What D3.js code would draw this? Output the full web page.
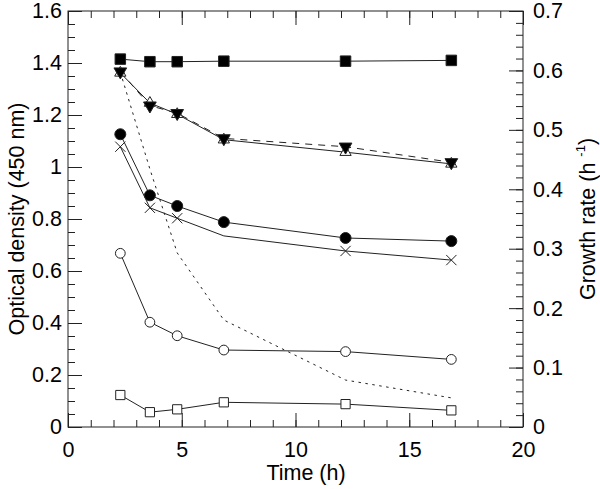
<!DOCTYPE html>
<html><head><meta charset="utf-8">
<script src="https://cdn.jsdelivr.net/npm/d3@7/dist/d3.min.js"></script>
<style>html,body{margin:0;padding:0;background:#fff}svg{display:block}</style>
</head><body>
<svg id="c" width="600" height="489"></svg>
<script>
// ---- data ----
const times = [2.3, 3.6, 4.8, 6.85, 12.2, 16.85];
const filledSquare = [1.415, 1.405, 1.405, 1.407, 1.407, 1.41];
const filledDownTri = [1.367, 1.236, 1.207, 1.11, 1.078, 1.018];
const openUpTri = [1.362, 1.246, 1.203, 1.105, 1.057, 1.012];
const filledCircle = [1.126, 0.891, 0.85, 0.788, 0.727, 0.715];
const crossSeries = [1.078, 0.843, 0.803, 0.735, 0.677, 0.642];
const openCircle = [0.668, 0.403, 0.351, 0.296, 0.29, 0.26];
const openSquare = [0.123, 0.057, 0.068, 0.095, 0.088, 0.064];
const growthRate = [0.597, 0.434, 0.293, 0.18, 0.079, 0.049];
const xTicks = [0, 5, 10, 15, 20];
const yLeftTicks = [0, 0.2, 0.4, 0.6, 0.8, 1, 1.2, 1.4, 1.6];
const yRightTicks = [0, 0.1, 0.2, 0.3, 0.4, 0.5, 0.6, 0.7];

const svg = d3.select("#c");
const L = 68, R = 523, T = 11, B = 427;
const x = d3.scaleLinear().domain([0, 20]).range([L, R]);
const yL = d3.scaleLinear().domain([0, 1.6]).range([B, T]);
const yR = d3.scaleLinear().domain([0, 0.7]).range([B, T]);
const FONT = "'Liberation Sans', Arial, Helvetica, sans-serif";
const FS = 21.5;
const fmt = d => String(+d.toFixed(2));

function styleAxis(g) {
  g.select(".domain").remove();
  g.selectAll("line").attr("stroke", "#222").attr("stroke-width", 1);
  g.selectAll("text").attr("font-family", FONT).attr("font-size", FS).attr("fill", "#000");
}
const MAJ = 14, MIN = 7;
// bottom
svg.append("g").attr("transform", `translate(0,${B})`)
  .call(d3.axisBottom(x).tickValues(d3.range(0, 21, 1)).tickSize(-MIN).tickFormat(""))
  .call(styleAxis);
svg.append("g").attr("transform", `translate(0,${B})`)
  .call(d3.axisBottom(x).tickValues(xTicks).tickSize(-MAJ).tickPadding(15).tickFormat(fmt))
  .call(styleAxis);
// top
svg.append("g").attr("transform", `translate(0,${T})`)
  .call(d3.axisTop(x).tickValues(d3.range(0, 21, 1)).tickSize(-MIN).tickFormat(""))
  .call(styleAxis);
svg.append("g").attr("transform", `translate(0,${T})`)
  .call(d3.axisTop(x).tickValues(xTicks).tickSize(-MAJ).tickFormat(""))
  .call(styleAxis);
// left
svg.append("g").attr("transform", `translate(${L},0)`)
  .call(d3.axisLeft(yL).tickValues(d3.range(0, 1.601, 0.05)).tickSize(-MIN).tickFormat(""))
  .call(styleAxis);
svg.append("g").attr("transform", `translate(${L},0)`)
  .call(d3.axisLeft(yL).tickValues(yLeftTicks).tickSize(-MAJ).tickPadding(6).tickFormat(fmt))
  .call(styleAxis);
// right
svg.append("g").attr("transform", `translate(${R},0)`)
  .call(d3.axisRight(yR).tickValues(d3.range(0, 0.7001, 0.02)).tickSize(-MIN).tickFormat(""))
  .call(styleAxis);
svg.append("g").attr("transform", `translate(${R},0)`)
  .call(d3.axisRight(yR).tickValues(yRightTicks).tickSize(-MAJ).tickPadding(10).tickFormat(fmt))
  .call(styleAxis);
// frame
svg.append("rect").attr("x", L).attr("y", T).attr("width", R - L).attr("height", B - T)
  .attr("fill", "none").attr("stroke", "#222").attr("stroke-width", 1);

// titles
svg.append("text").attr("x", 306).attr("y", 480).attr("text-anchor", "middle")
  .attr("font-family", FONT).attr("font-size", FS).text("Time (h)");
svg.append("text").attr("transform", `translate(16,${(T + B) / 2}) rotate(-90)`)
  .attr("text-anchor", "middle").attr("dy", "0.35em")
  .attr("font-family", FONT).attr("font-size", FS).text("Optical density (450 nm)");
const rt = svg.append("text").attr("transform", `translate(587,${(T + B) / 2}) rotate(-90)`)
  .attr("text-anchor", "middle").attr("dy", "0.35em")
  .attr("font-family", FONT).attr("font-size", FS);
rt.append("tspan").text("Growth rate (h ");
rt.append("tspan").attr("font-size", 13).attr("dy", "-0.75em").text("-1");
rt.append("tspan").attr("dy", "0.45em").text(")");

// lines
function drawLine(vals, scale, dash) {
  const line = d3.line().x((d, i) => x(times[i])).y(d => scale(d));
  svg.append("path").datum(vals).attr("d", line).attr("fill", "none")
    .attr("stroke", "#222").attr("stroke-width", 1)
    .attr("stroke-dasharray", dash || null);
}
drawLine(growthRate, yR, "2.5,4.5");
drawLine(filledSquare, yL);
drawLine(filledDownTri, yL, "7,6");
drawLine(openUpTri, yL);
drawLine(filledCircle, yL);
drawLine(crossSeries, yL);
drawLine(openCircle, yL);
drawLine(openSquare, yL);

function drawMarks(vals, type, size, filled, rot, skip) {
  const sym = d3.symbol().type(type).size(size);
  svg.append("g").selectAll("path").data(vals.map((v, i) => [times[i], v, i]).filter(d => !(skip || []).includes(d[2])))
    .join("path").attr("d", sym)
    .attr("transform", d => `translate(${x(d[0])},${yL(d[1])}) rotate(${rot || 0})`)
    .attr("fill", filled ? "#000" : (type === d3.symbolTimes ? "none" : "#fff"))
    .attr("stroke", "#222").attr("stroke-width", 1);
}
drawMarks(filledSquare, d3.symbolSquare, 110, true);
drawMarks(openUpTri, d3.symbolTriangle, 55, false);
drawMarks(filledDownTri, d3.symbolTriangle, 70, true, 180);
drawMarks(filledCircle, d3.symbolCircle, 95, true);
// the marker at 6.85 h is not shown in the reference
drawMarks(crossSeries, d3.symbolTimes, 70, false, 0, [3]);
drawMarks(openCircle, d3.symbolCircle, 75, false);
drawMarks(openSquare, d3.symbolSquare, 85, false);
</script>
</body></html>
